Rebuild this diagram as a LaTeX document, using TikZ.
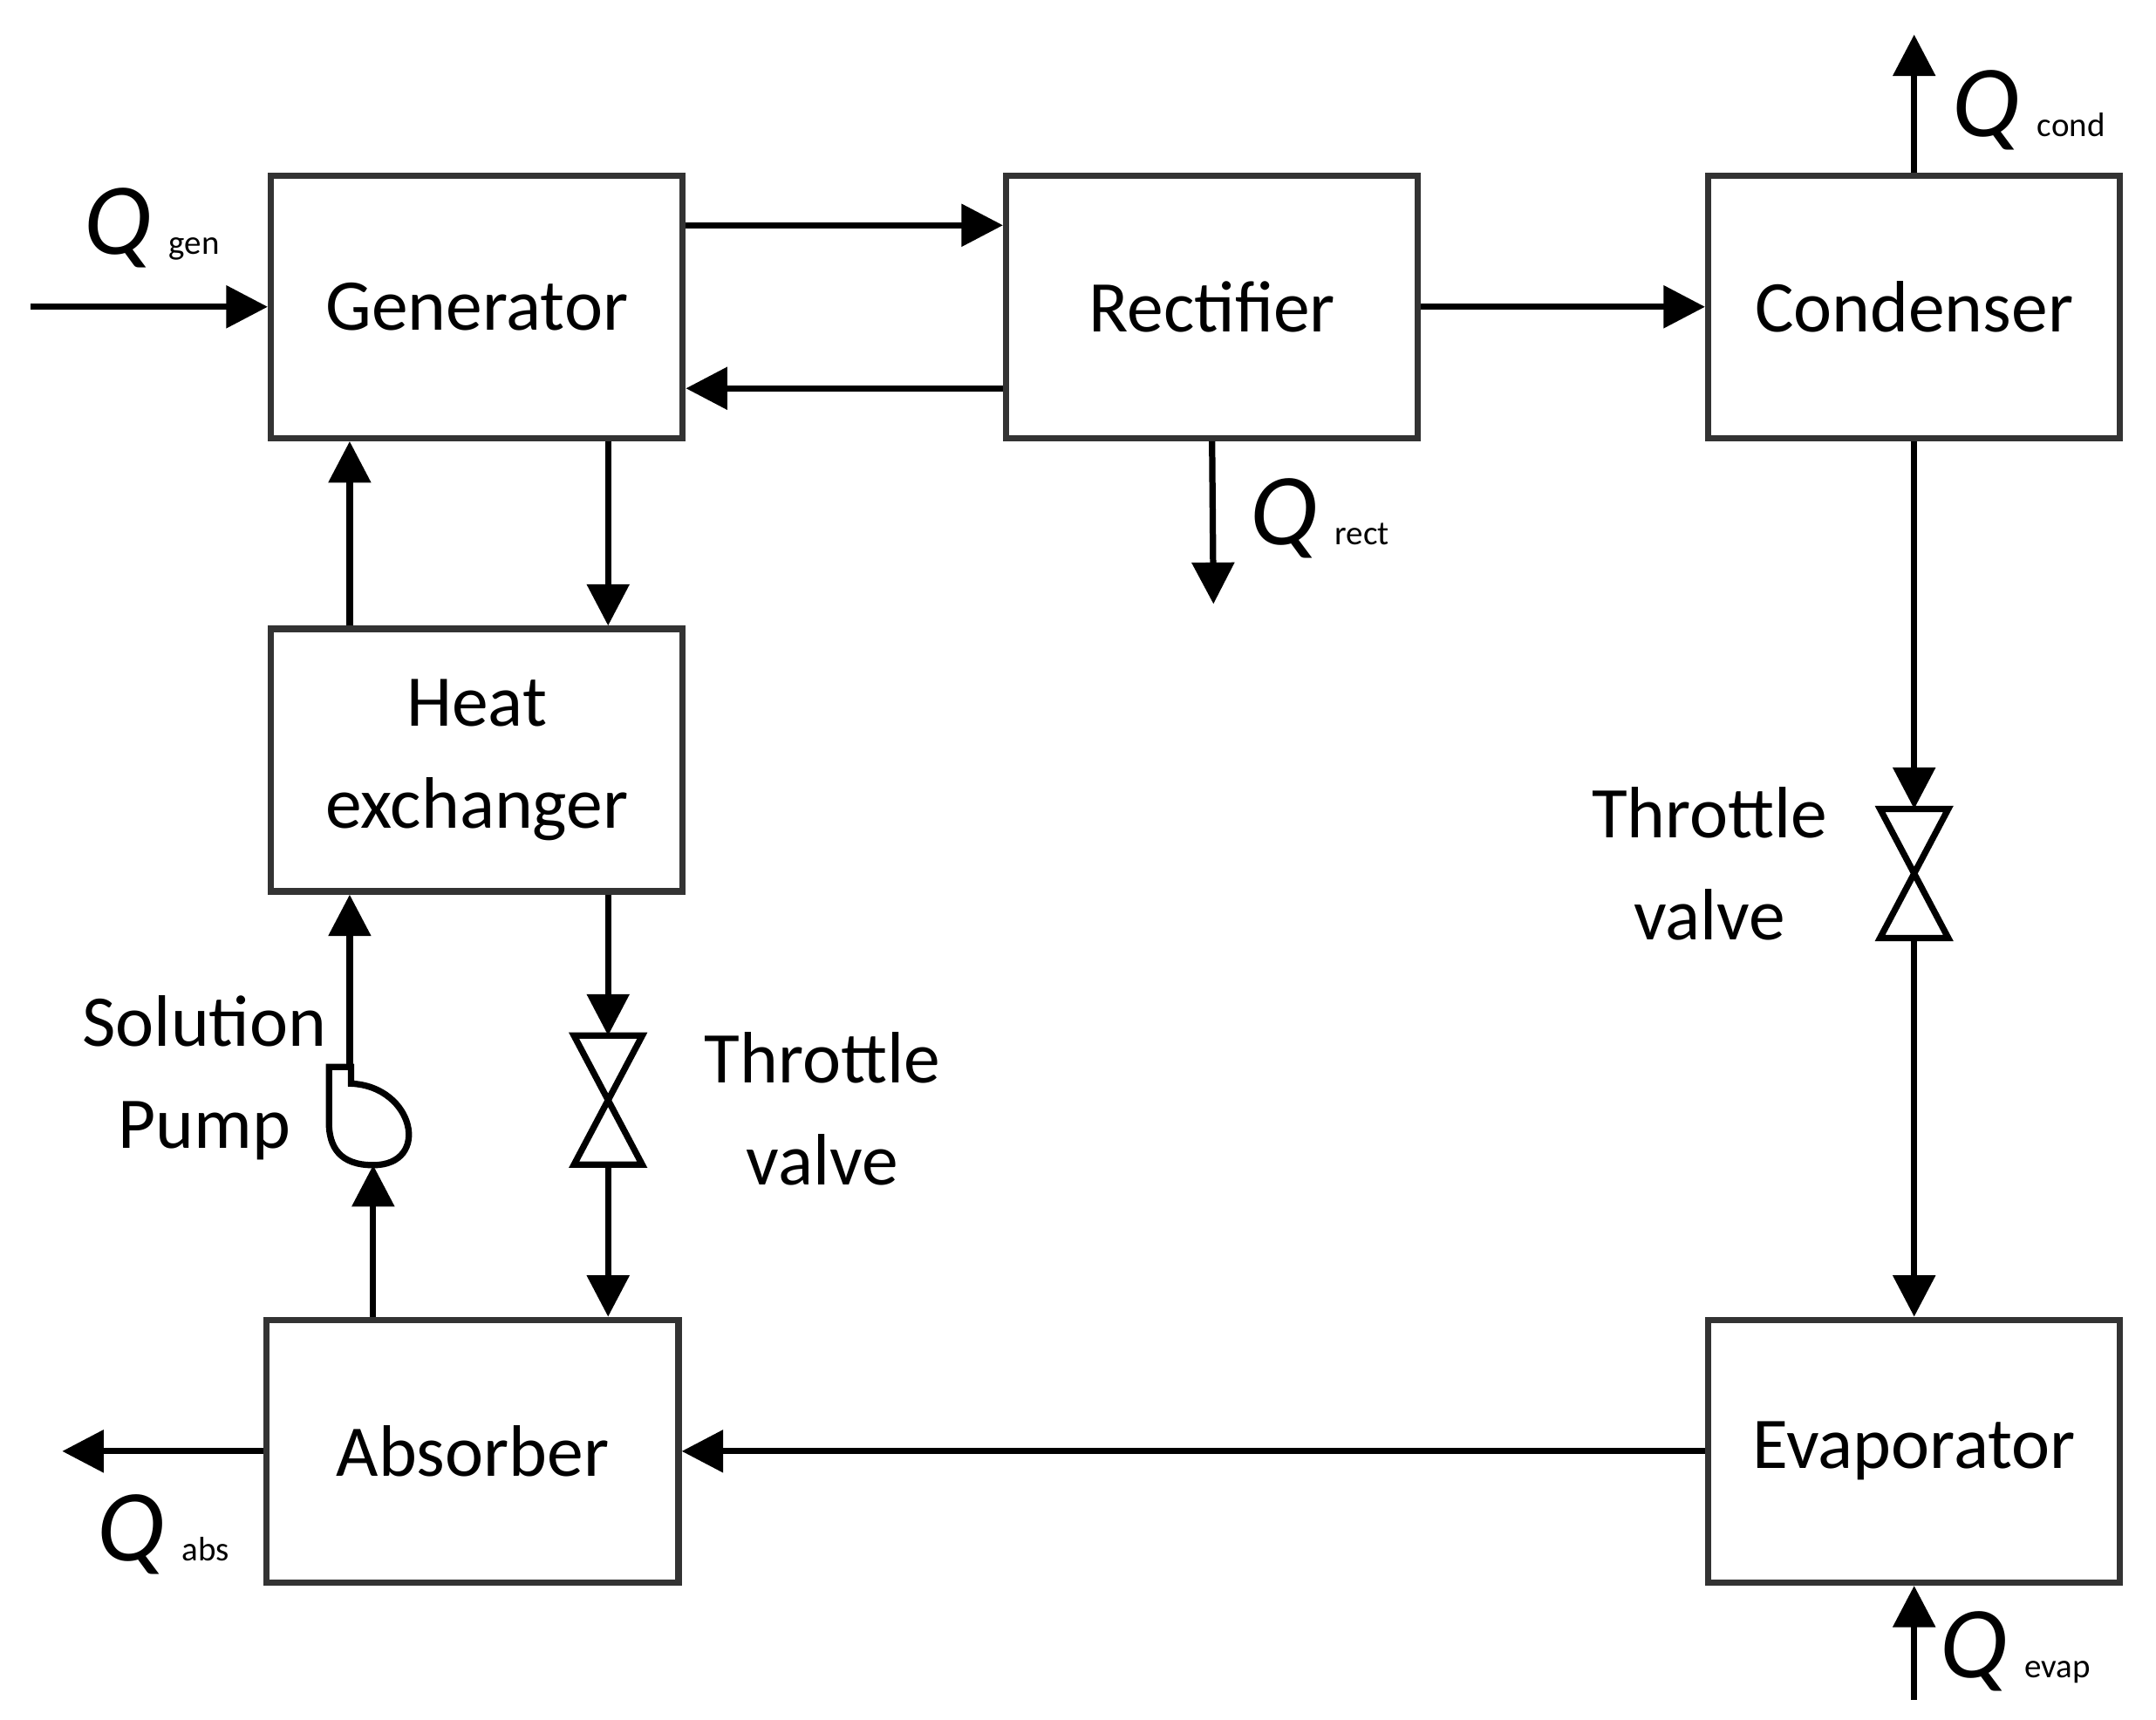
\documentclass[tikz,border=0pt]{standalone}
\usepackage{fontspec}
\setmainfont{Carlito}
\usetikzlibrary{arrows.meta}
\tikzset{
  block/.style={draw=black!80, line width=1.3pt, minimum width=2.98cm, minimum height=1.9cm,
    align=center, font=\fontsize{15}{21}\selectfont},
  valve/.style={minimum width=0.48cm, minimum height=0.92cm, inner sep=0pt},
  lbl/.style={align=center, font=\fontsize{15}{21}\selectfont},
  heat/.style={font=\fontsize{21}{24}\selectfont\itshape},
  flow/.style={line width=1.3pt, -{Triangle[length=3mm,width=3mm]}}
}
\newcommand{\qsub}[1]{\,{\upshape\fontsize{7}{8}\selectfont #1}}
\begin{document}
\begin{tikzpicture}[x=0.1mm, y=-0.1mm]
  \useasboundingbox (0,0) rectangle (1560,1244);
  \node[block] (gen) at (345,222) {Generator};
  \node[block] (rect) at (877,222) {Rectifier};
  \node[block] (cond) at (1385,222) {Condenser};
  \node[block] (hx) at (345,550) {Heat\\exchanger};
  \node[block] (abs) at (342,1050) {Absorber};
  \node[block] (evap) at (1385,1050) {Evaporator};

  \node[valve] (v1) at (440,796) {};
  \node[valve] (v2) at (1385,632) {};
  \draw[line width=1.3pt] (v1.north west) -- (v1.north east) -- (v1.south west) -- (v1.south east) -- cycle;
  \draw[line width=1.3pt] (v2.north west) -- (v2.north east) -- (v2.south west) -- (v2.south east) -- cycle;
  \node[lbl] (t1) at (595,802) {Throttle\\valve};
  \node[lbl] (t2) at (1237,625) {Throttle\\valve};

  % pump
  \coordinate (pumpin) at (270,843);
  \coordinate (pumpout) at (253,772);
  \draw[line width=1.3pt] (254,772) -- (254,784) .. controls (300,786) and (312,843) .. (270,843)
    .. controls (246,843) and (238,830) .. (238,812) -- (238,772) -- cycle;
  \node[lbl] (pl) at (148,780) {Solution\\Pump};

  % heat flows
  \coordinate (qgen) at (22,222);
  \coordinate (qcond) at (1385,25);
  \coordinate (qrect) at (878,437);
  \coordinate (qabs) at (45,1050);
  \coordinate (qevap) at (1385,1230);
  \node[heat] at (110,165) {Q\qsub{gen}};
  \node[heat] at (1468,80) {Q\qsub{cond}};
  \node[heat] at (955,375) {Q\qsub{rect}};
  \node[heat] at (118,1110) {Q\qsub{abs}};
  \node[heat] at (1458,1195) {Q\qsub{evap}};

  \draw[flow] (qgen) -- (gen.west);
  \draw[flow] (cond.north) -- (qcond);
  \draw[flow] (rect.south) -- (qrect);
  \draw[flow] (abs.west) -- (qabs);
  \draw[flow] (qevap) -- (evap.south);

  % streams
  \draw[flow] (gen.east |- 0,163) -- (rect.west |- 0,163);
  \draw[flow] (rect.west |- 0,281) -- (gen.east |- 0,281);
  \draw[flow] (rect.east) -- (cond.west);
  \draw[flow] (gen.south -| v1) -- (hx.north -| v1);
  \draw[flow] (hx.north -| pumpout) -- (gen.south -| pumpout);
  \draw[flow] (hx.south -| v1) -- (v1.north);
  \draw[flow] (v1.south) -- (abs.north -| v1);
  \draw[flow] (abs.north -| pumpin) -- (pumpin);
  \draw[flow] (pumpout) -- (hx.south -| pumpout);
  \draw[flow] (cond.south) -- (v2.north);
  \draw[flow] (v2.south) -- (evap.north);
  \draw[flow] (evap.west) -- (abs.east);
\end{tikzpicture}
\end{document}
